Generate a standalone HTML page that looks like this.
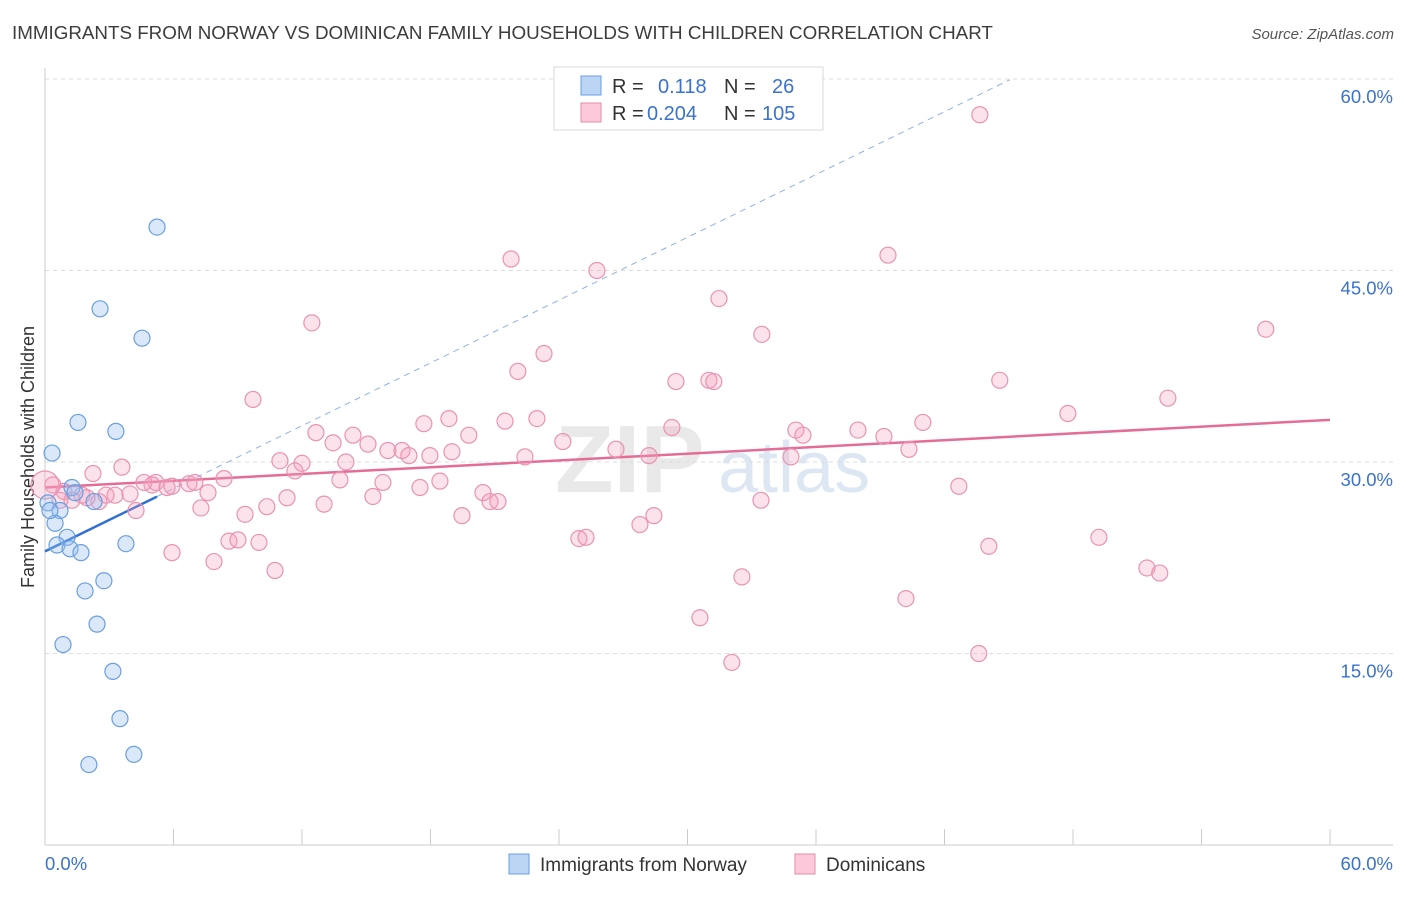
<!DOCTYPE html>
<html><head><meta charset="utf-8"><style>
body{margin:0;background:#fff;font-family:"Liberation Sans",sans-serif;}
svg text{font-family:"Liberation Sans",sans-serif;}
</style></head><body>
<svg id="chart" width="1406" height="892" viewBox="0 0 1406 892" xmlns="http://www.w3.org/2000/svg">
<text x="12" y="39" font-size="18.8" fill="#3c3c3c">IMMIGRANTS FROM NORWAY VS DOMINICAN FAMILY HOUSEHOLDS WITH CHILDREN CORRELATION CHART</text>
<text x="1394" y="39" font-size="15" fill="#555" text-anchor="end" font-style="italic">Source: ZipAtlas.com</text>
<g>
<text x="555" y="492" font-size="96" fill="#e9e9e9" font-family="Liberation Serif" font-weight="bold">ZIP</text>
<text x="718" y="492" font-size="72" fill="#dde7f3">atlas</text>
</g>
<g id="grid"></g>
<g id="axes"></g>
<text transform="translate(34,457) rotate(-90)" font-size="18" fill="#333" text-anchor="middle">Family Households with Children</text>
<g id="trend"></g>
<g id="pts"></g>
<g>
<rect x="554" y="67" width="269" height="63" fill="#fff" stroke="#d8d8d8"/>
<rect x="581" y="76" width="20" height="19" fill="#bcd5f5" stroke="#6a9fe0"/>
<rect x="581" y="103" width="20" height="19" fill="#fbc9da" stroke="#e48aa8"/>
<text x="612" y="93" font-size="20" fill="#333">R =</text>
<text x="658" y="93" font-size="20" fill="#3a72d0">0.118</text>
<text x="724" y="93" font-size="20" fill="#333">N =</text>
<text x="772" y="93" font-size="20" fill="#3a72d0">26</text>
<text x="612" y="120" font-size="20" fill="#333">R =</text>
<text x="647" y="120" font-size="20" fill="#3a72d0">0.204</text>
<text x="724" y="120" font-size="20" fill="#333">N =</text>
<text x="762" y="120" font-size="20" fill="#3a72d0">105</text>
</g>
<g>
<rect x="509" y="854" width="20" height="20" fill="#bcd5f5" stroke="#6a9fe0"/>
<text x="540" y="871" font-size="19" fill="#333">Immigrants from Norway</text>
<rect x="795" y="854" width="20" height="20" fill="#fbc9da" stroke="#e48aa8"/>
<text x="826" y="871" font-size="19" fill="#333">Dominicans</text>
</g>
</svg>
<script>
const yTicks=[15,30,45,60];
const yTickLabels=["15.0%","30.0%","45.0%","60.0%"];
const xTickLabels=["0.0%","60.0%"];
const norwayX=[5.23,2.57,4.53,1.54,3.31,0.33,1.26,0.14,0.70,2.29,0.47,1.03,0.56,1.17,1.68,3.78,2.75,1.87,2.43,0.84,3.17,3.50,4.15,2.05,1.40,0.23];
const norwayY=[48.4,42.0,39.7,33.1,32.4,30.7,28.0,26.8,26.2,26.9,25.2,24.1,23.5,23.2,22.9,23.6,20.7,19.9,17.3,15.7,13.6,9.9,7.1,6.3,27.6,26.2];
const domX=[43.65,21.76,25.77,39.36,31.47,12.46,57.0,33.47,23.3,22.08,29.46,31.0,31.23,44.58,9.71,52.43,47.76,18.86,21.48,22.97,17.69,40.99,29.27,35.06,37.96,12.65,14.38,19.79,35.39,39.17,13.45,24.18,15.08,16.01,26.66,16.67,17.97,19.0,16.99,40.34,28.2,22.41,34.83,10.97,12.0,14.05,3.59,2.24,11.67,13.77,15.78,18.44,5.18,5.0,4.62,6.72,7.0,8.36,5.93,5.7,0.37,0.89,17.51,20.45,3.97,7.61,2.85,11.3,15.31,20.78,21.15,1.26,2.52,1.96,33.43,42.67,13.03,7.28,10.36,4.25,9.34,19.47,28.43,27.78,1.73,8.59,9.01,9.99,24.93,25.26,49.21,44.07,5.93,7.89,10.74,51.45,52.05,32.54,30.58,40.2,32.07,43.6,0,3.27,0.7];
const domY=[57.2,45.9,45.0,46.2,42.8,40.9,40.4,40.0,38.5,37.1,36.3,36.4,36.3,36.4,34.9,35.0,33.8,33.4,33.2,33.4,33.0,33.1,32.7,32.5,32.5,32.3,32.1,32.1,32.1,32.0,31.5,31.6,31.4,30.9,31.0,30.9,30.5,30.8,30.5,31.0,30.5,30.4,30.4,30.1,29.9,30.0,29.6,29.1,29.3,28.6,28.4,28.5,28.4,28.2,28.4,28.3,28.4,28.7,28.1,28.0,28.2,27.7,28.0,27.6,27.5,27.6,27.4,27.2,27.3,26.9,26.9,27.0,26.9,27.2,27.0,28.1,26.7,26.4,26.5,26.2,25.9,25.8,25.8,25.1,27.4,23.8,23.9,23.7,24.0,24.1,24.1,23.4,22.9,22.2,21.5,21.7,21.3,21.0,17.8,19.3,14.3,15.0,28.2,27.4,27.0];
const norwayTrend=[23.0,0.82];
const domTrend=[28.0,0.0883];

const NS="http://www.w3.org/2000/svg";
const X=v=>45+v*1285/60;
const Y=v=>845-v*766/60;
function mk(tag,attrs,parent){const e=document.createElementNS(NS,tag);for(const k in attrs)e.setAttribute(k,attrs[k]);document.getElementById(parent).appendChild(e);return e;}

yTicks.forEach((t,i)=>{
  const g=mk('line',{x1:45,x2:1393,y1:Y(t),y2:Y(t),stroke:'#dcdcdc','stroke-dasharray':'4,4'},'grid');
  
  
  const tx=mk('text',{x:1393,y:Y(t)+24,'font-size':18.5,fill:'#3a72d0','text-anchor':'end'},'grid');
  tx.textContent=yTickLabels[i];
  
  
});
const ax=mk('line',{x1:45,x2:1393,y1:845,y2:845,stroke:'#ccc'},'axes');


const ay=mk('line',{x1:45,x2:45,y1:68,y2:845,stroke:'#ccc'},'axes');


for(let i=0;i<=10;i++){
  const t=mk('line',{x1:X(i*6),x2:X(i*6),y1:829,y2:845,stroke:'#ccc'},'axes');
  
  
}
[[0,'start',45],[60,'end',1393]].forEach((d,i)=>{
  const t=mk('text',{x:d[2],y:870,'font-size':18.5,fill:'#3a72d0','text-anchor':d[1]},'axes');
  t.textContent=xTickLabels[i];
  
  
});

domX.forEach((v,i)=>{
  const c=mk('circle',{cx:X(v),cy:Y(domY[i]),r:i==102?14:8,fill:'rgba(245,160,190,0.3)',stroke:'#e993b2','stroke-width':1.2},'pts');
  
  
});
norwayX.forEach((v,i)=>{
  const c=mk('circle',{cx:X(v),cy:Y(norwayY[i]),r:8,fill:'rgba(150,190,240,0.35)',stroke:'#6a9fe0','stroke-width':1.2},'pts');
  
  
});
const bMax=Math.max(...norwayX);
let l=mk('line',{x1:X(0),y1:Y(norwayTrend[0]),x2:X(bMax),y2:Y(norwayTrend[0]+norwayTrend[1]*bMax),stroke:'#2f6fd6','stroke-width':2.5},'trend');


const xe=45.05;
l=mk('line',{x1:X(bMax),y1:Y(norwayTrend[0]+norwayTrend[1]*bMax),x2:X(xe),y2:Y(norwayTrend[0]+norwayTrend[1]*xe),stroke:'#8fb1e6','stroke-width':1,'stroke-dasharray':'6,5'},'trend');


l=mk('line',{x1:X(0),y1:Y(domTrend[0]),x2:X(60),y2:Y(domTrend[0]+domTrend[1]*60),stroke:'#e46d98','stroke-width':2.5},'trend');


</script>
</body></html>
